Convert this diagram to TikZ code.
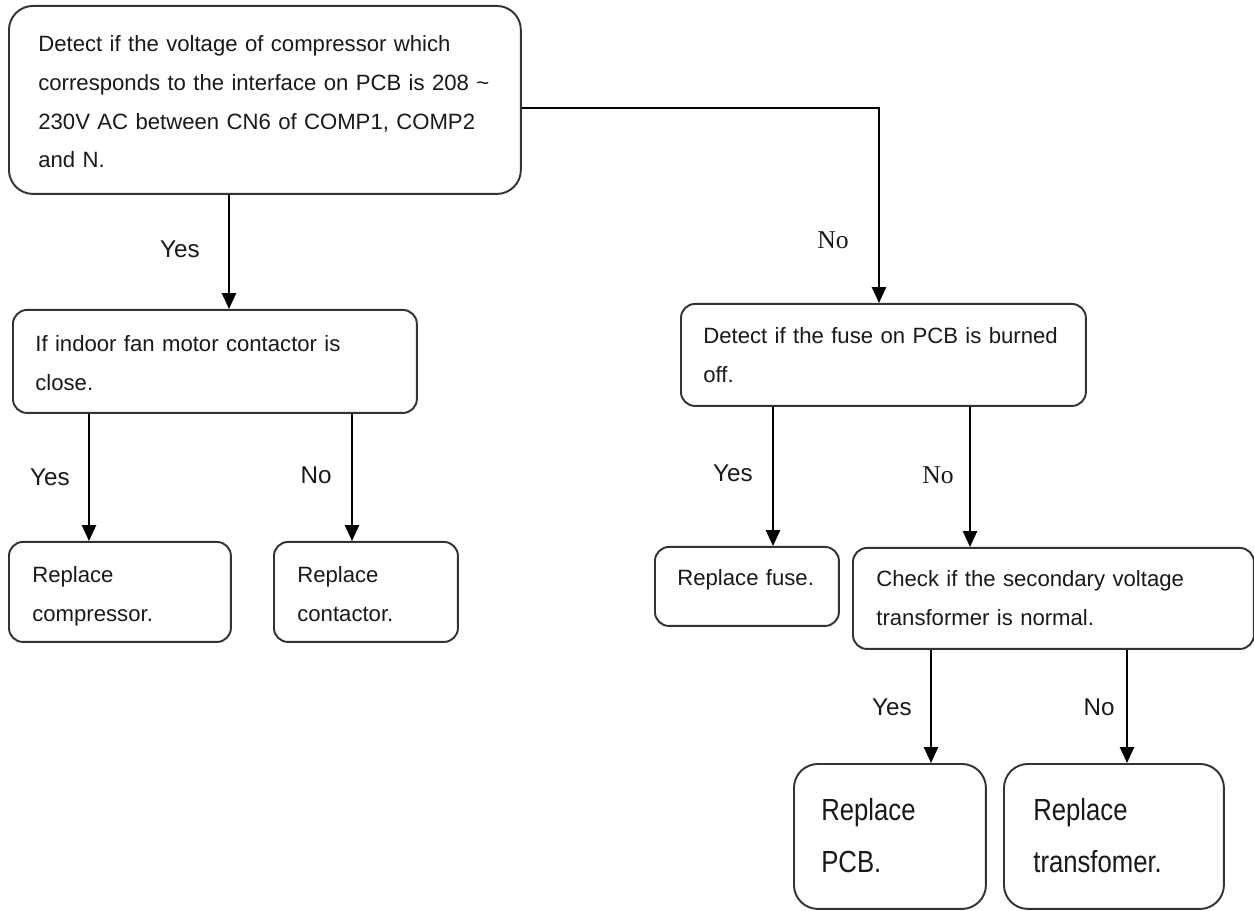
\documentclass[tikz,border=0pt]{standalone}
\usepackage{fontspec}
\setmainfont{Liberation Sans}
\newfontfamily\labelserif{Liberation Serif}
\newfontfamily\narrowsans[FakeStretch=0.84]{Liberation Sans}
\usetikzlibrary{arrows.meta,calc}

\begin{document}
\begin{tikzpicture}[x=0.02cm, y=-0.02cm,
  box/.style={draw=black!80, line width=1.1pt, rounded corners=0.28cm,
    anchor=north west, inner sep=0pt},
  bigbox/.style={box, rounded corners=0.48cm},
  txt/.style={anchor=base west, inner sep=0pt, align=left, text width=12cm,
    text=black!90, font=\fontsize{12.6}{22}\selectfont},
  bigtxt/.style={txt, font=\narrowsans\fontsize{17.4}{30}\selectfont},
  lbl/.style={inner sep=0pt, text=black!90, font=\fontsize{13.8}{16}\selectfont},
  lblserif/.style={lbl, font=\labelserif\fontsize{14.6}{17}\selectfont},
  arr/.style={draw=black, line width=1.1pt, -{Triangle[width=8pt,length=9pt]}}
]
\useasboundingbox (0,0) rectangle (1254,911);

% decision and action boxes
\node[bigbox, minimum width=10.24cm, minimum height=3.76cm] (A) at (8,5) {};
\node[box, minimum width=8.08cm, minimum height=2.06cm] (B) at (12,309) {};
\node[box, minimum width=4.44cm, minimum height=2.00cm] (D) at (8,541) {};
\node[box, minimum width=3.68cm, minimum height=2.00cm] (E) at (273,541) {};
\node[box, minimum width=8.10cm, minimum height=2.04cm] (C) at (680,303) {};
\node[box, minimum width=3.68cm, minimum height=1.58cm] (F) at (654,546) {};
\node[box, minimum width=8.02cm, minimum height=2.02cm] (G) at (852,547) {};
\node[bigbox, minimum width=3.84cm, minimum height=2.90cm] (H) at (793,763) {};
\node[bigbox, minimum width=4.40cm, minimum height=2.90cm] (I) at (1003,763) {};

% box texts
\node[txt] (At) at ($(A.north west)+(30,47)$)
  {Detect if the voltage of compressor which\\
   corresponds to the interface on PCB is 208 \textasciitilde\\
   230V AC between CN6 of COMP1, COMP2\\
   and N.};
\node[txt] (Bt) at ($(B.north west)+(23,43)$)
  {If indoor fan motor contactor is\\ close.};
\node[txt] (Dt) at ($(D.north west)+(24,42)$) {Replace\\ compressor.};
\node[txt] (Et) at ($(E.north west)+(24,42)$) {Replace\\ contactor.};
\node[txt] (Ct) at ($(C.north west)+(23,41)$)
  {Detect if the fuse on PCB is burned\\ off.};
\node[txt] (Ft) at ($(F.north west)+(23,40)$) {Replace fuse.};
\node[txt] (Gt) at ($(G.north west)+(24,40)$)
  {Check if the secondary voltage\\ transformer is normal.};
\node[bigtxt] (Ht) at ($(H.north west)+(28,57)$) {Replace\\ PCB.};
\node[bigtxt] (It) at ($(I.north west)+(30,57)$) {Replace\\ transfomer.};

% connectors
\draw[arr] ($(A.south west)+(221,0)$) -- ($(B.north west)+(217,0)$);
\draw[arr] ($(A.east)+(0,8)$) -| ($(C.north west)+(199,0)$);
\draw[arr] ($(B.south west)+(77,0)$) -- ($(D.north west)+(81,0)$);
\draw[arr] ($(B.south west)+(340,0)$) -- ($(E.north west)+(79,0)$);
\draw[arr] ($(C.south west)+(93,0)$) -- ($(F.north west)+(119,0)$);
\draw[arr] ($(C.south west)+(290,0)$) -- ($(G.north west)+(118,0)$);
\draw[arr] ($(G.south west)+(79,0)$) -- ($(H.north west)+(138,0)$);
\draw[arr] ($(G.south west)+(275,0)$) -- ($(I.north west)+(124,0)$);

% branch labels
\node[lbl] (y1) at (180,249) {Yes};
\node[lblserif] (n1) at (833,240) {No};
\node[lbl] (y2) at (50,477) {Yes};
\node[lbl] (n2) at (316,475) {No};
\node[lbl] (y3) at (733,473) {Yes};
\node[lblserif] (n3) at (938,475) {No};
\node[lbl] (y4) at (892,707) {Yes};
\node[lbl] (n4) at (1099,707) {No};
\end{tikzpicture}
\end{document}
